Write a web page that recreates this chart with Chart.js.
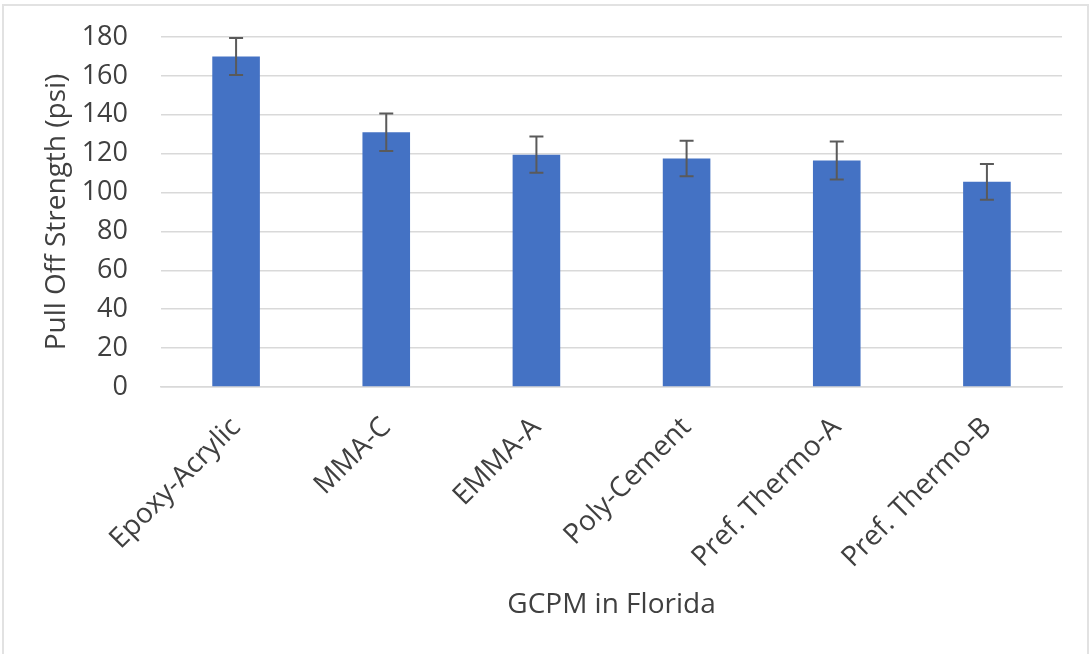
<!DOCTYPE html>
<html>
<head>
<meta charset="utf-8">
<script src="https://cdn.jsdelivr.net/npm/chart.js@4.4.1/dist/chart.umd.min.js"></script>
<style>
  html, body { margin: 0; padding: 0; background: #ffffff; }
  #wrap { position: relative; width: 1089px; height: 654px; overflow: hidden; }
  #chart { position: absolute; left: 0; top: 0; }
  #frame { position: absolute; left: 2px; top: 4px; width: 1087px; height: 700px;
           box-sizing: border-box; border: 2px solid #e2e2e2; pointer-events: none; }
</style>
</head>
<body>
<div id="wrap">
  <canvas id="chart" width="1089" height="654"></canvas>
  <div id="frame"></div>
</div>
<script>
const categories = ['Epoxy-Acrylic', 'MMA-C', 'EMMA-A', 'Poly-Cement', 'Pref. Thermo-A', 'Pref. Thermo-B'];
const strength = [170, 131, 119.5, 117.5, 116.5, 105.5];
const strengthError = [9.5, 9.6, 9.3, 9.1, 9.8, 9.2];
const yTicks = [0, 20, 40, 60, 80, 100, 120, 140, 160, 180];
const xTitle = 'GCPM in Florida';
const yTitle = 'Pull Off Strength (psi)';

const FONT = '"Open Sans", "DejaVu Sans", sans-serif';
const TEXT = '#404040';

const errorBars = {
  id: 'errorBars',
  afterDatasetsDraw(chart) {
    const ctx = chart.ctx;
    const yScale = chart.scales.y;
    const meta = chart.getDatasetMeta(0);
    ctx.save();
    ctx.strokeStyle = '#5a5a5a';
    ctx.lineWidth = 2;
    meta.data.forEach((bar, i) => {
      const v = strength[i], e = strengthError[i];
      const x = bar.x;
      const yTop = yScale.getPixelForValue(v + e);
      const yBot = yScale.getPixelForValue(v - e);
      const cap = 7;
      ctx.beginPath();
      ctx.moveTo(x, yTop); ctx.lineTo(x, yBot);
      ctx.moveTo(x - cap, yTop); ctx.lineTo(x + cap, yTop);
      ctx.moveTo(x - cap, yBot); ctx.lineTo(x + cap, yBot);
      ctx.stroke();
    });
    ctx.restore();
  }
};

new Chart(document.getElementById('chart'), {
  type: 'bar',
  data: {
    labels: categories,
    datasets: [{
      data: strength,
      backgroundColor: '#4472C4',
      borderWidth: 0,
      categoryPercentage: 1.0,
      barPercentage: 0.317
    }]
  },
  options: {
    responsive: false,
    animation: false,
    events: [],
    layout: { padding: { top: 37, right: 27, left: 0, bottom: 0 } },
    plugins: { legend: { display: false }, tooltip: { enabled: false } },
    scales: {
      x: {
        grid: { display: false, drawTicks: false },
        border: { display: true, color: '#d9d9d9', width: 1.5 },
        ticks: {
          minRotation: 45, maxRotation: 45, autoSkip: false,
          padding: 24,
          color: TEXT,
          font: { family: FONT, size: 28 }
        },
        title: {
          display: true, text: xTitle, color: TEXT,
          font: { family: FONT, size: 28 },
          padding: { top: 0, bottom: 32 }
        },
        afterFit(scale) {
          scale.height = 267;
          scale.paddingLeft = 0; scale.paddingRight = 0;
        }
      },
      y: {
        min: 0, max: 180,
        afterBuildTicks(scale) { scale.ticks = yTicks.map(v => ({ value: v })); },
        grid: { color: '#d9d9d9', lineWidth: 1.5, drawTicks: false },
        border: { display: false },
        ticks: {
          padding: 33,
          color: TEXT,
          font: { family: FONT, size: 27 }
        },
        title: {
          display: true, text: yTitle, color: TEXT,
          font: { family: FONT, size: 28 },
          padding: { top: 40, bottom: 0 }
        },
        afterFit(scale) {
          scale.width = 161;
          scale.paddingTop = 0; scale.paddingBottom = 0;
        }
      }
    }
  },
  plugins: [errorBars]
});
</script>
</body>
</html>
